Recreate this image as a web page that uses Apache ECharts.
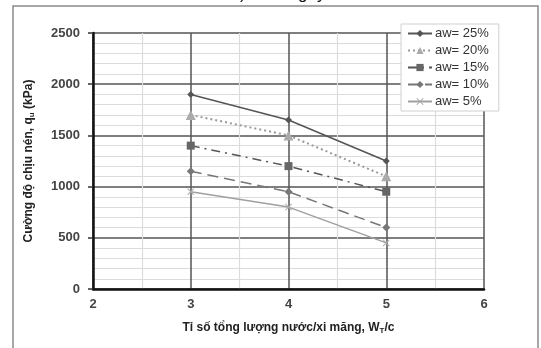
<!DOCTYPE html>
<html>
<head>
<meta charset="utf-8">
<script src="https://cdn.jsdelivr.net/npm/echarts@6/dist/echarts.min.js"></script>
<style>
  html, body { margin: 0; padding: 0; background: #fff; }
  #chart { width: 541px; height: 348px; }
</style>
</head>
<body>
<div id="chart"></div>
<script>
// Water/cement ratio on the x axis
const ratios = [3, 4, 5];

// Unconfined compressive strength q_u (kPa) for each aw content
const aw25 = [1900, 1650, 1250];
const aw20 = [1700, 1500, 1100];
const aw15 = [1400, 1200, 950];
const aw10 = [1150, 950, 600];
const aw5  = [950, 800, 450];

const seriesNames = ['aw= 25%', 'aw= 20%', 'aw= 15%', 'aw= 10%', 'aw= 5%'];

const pairs = (ys) => ratios.map((x, i) => [x, ys[i]]);

const crossPath = 'path://M1,0L5,4L9,0L10,1L6,5L10,9L9,10L5,6L1,10L0,9L4,5L0,1Z';

const FONT = 'Liberation Sans, Arial, sans-serif';

const chart = echarts.init(document.getElementById('chart'));

chart.setOption({
  animation: false,
  backgroundColor: '#fff',
  graphic: [
    {
      type: 'rect',
      shape: { x: 13, y: 6, width: 525, height: 360 },
      style: { fill: 'none', stroke: '#8a8a8a', lineWidth: 1.5 },
      z: -10
    },
    {
      type: 'text',
      x: 278, y: 2.5,
      style: {
        text: 'b) t = 7 ngày',
        font: '17px ' + FONT,
        fill: '#111',
        align: 'center',
        verticalAlign: 'bottom'
      }
    }
  ],
  grid: { left: 93, right: 57, top: 33, bottom: 59 },
  legend: {
    orient: 'vertical',
    left: 401,
    top: 24,
    backgroundColor: '#fff',
    borderColor: '#d0d0d0',
    borderWidth: 1,
    padding: [3, 10, 3, 6],
    itemWidth: 24,
    itemHeight: 9,
    itemGap: 4,
    data: seriesNames,
    textStyle: { fontFamily: FONT, fontSize: 13, color: '#333', padding: [0, 0, 0, -2] }
  },
  xAxis: {
    type: 'value',
    min: 2, max: 6, interval: 1,
    name: 'Tỉ số tổng lượng nước/xi măng, W{s|T}/c',
    nameLocation: 'middle',
    nameGap: 32,
    nameTextStyle: {
      fontFamily: FONT, fontSize: 12, fontWeight: 'bold', color: '#222',
      rich: { s: { fontFamily: FONT, fontSize: 8, fontWeight: 'bold', color: '#222', padding: [6, 0, 0, 0] } }
    },
    axisLine: { onZero: false, lineStyle: { color: '#111', width: 2.5 } },
    axisTick: { show: false },
    axisLabel: { margin: 9, fontFamily: FONT, fontSize: 13, fontWeight: 'bold', color: '#444' },
    splitLine: { show: true, lineStyle: { color: '#555', width: 1.5 } },
    minorTick: { show: false, splitNumber: 2 },
    minorSplitLine: { show: true, lineStyle: { color: '#dcdcdc', width: 1.2 } }
  },
  yAxis: {
    type: 'value',
    min: 0, max: 2500, interval: 500,
    name: 'Cường độ chịu nén, q{s|u} (kPa)',
    nameLocation: 'middle',
    nameGap: 57,
    nameTextStyle: {
      fontFamily: FONT, fontSize: 12, fontWeight: 'bold', color: '#222',
      rich: { s: { fontFamily: FONT, fontSize: 8, fontWeight: 'bold', color: '#222', padding: [6, 0, 0, 0] } }
    },
    axisLine: { show: true, lineStyle: { color: '#111', width: 2.5 } },
    axisTick: { show: true, length: 5, lineStyle: { color: '#333', width: 1.5 } },
    axisLabel: {
      margin: 13, fontFamily: FONT, fontSize: 13, fontWeight: 'bold', color: '#444',
      formatter: (v) => String(v)
    },
    splitLine: { show: true, lineStyle: { color: '#555', width: 1.5 } },
    minorTick: { show: false, splitNumber: 5 },
    minorSplitLine: { show: true, lineStyle: { color: '#dcdcdc', width: 1.2 } }
  },
  series: [
    {
      name: seriesNames[0], type: 'line', data: pairs(aw25),
      symbol: 'diamond', symbolSize: 7,
      itemStyle: { color: '#555' },
      lineStyle: { color: '#555', width: 1.5, type: 'solid' }
    },
    {
      name: seriesNames[1], type: 'line', data: pairs(aw20),
      symbol: 'triangle', symbolSize: 10,
      itemStyle: { color: '#aaa' },
      lineStyle: { color: '#999', width: 2, type: [2, 3] }
    },
    {
      name: seriesNames[2], type: 'line', data: pairs(aw15),
      symbol: 'rect', symbolSize: 8,
      itemStyle: { color: '#666' },
      lineStyle: { color: '#555', width: 1.5, type: [9, 5, 2, 5] }
    },
    {
      name: seriesNames[3], type: 'line', data: pairs(aw10),
      symbol: 'diamond', symbolSize: 8,
      itemStyle: { color: '#777' },
      lineStyle: { color: '#777', width: 1.5, type: [11, 6] }
    },
    {
      name: seriesNames[4], type: 'line', data: pairs(aw5),
      symbol: crossPath, symbolSize: 7,
      itemStyle: { color: '#aaa' },
      lineStyle: { color: '#a0a0a0', width: 1.5, type: 'solid' }
    }
  ]
});
</script>
</body>
</html>
